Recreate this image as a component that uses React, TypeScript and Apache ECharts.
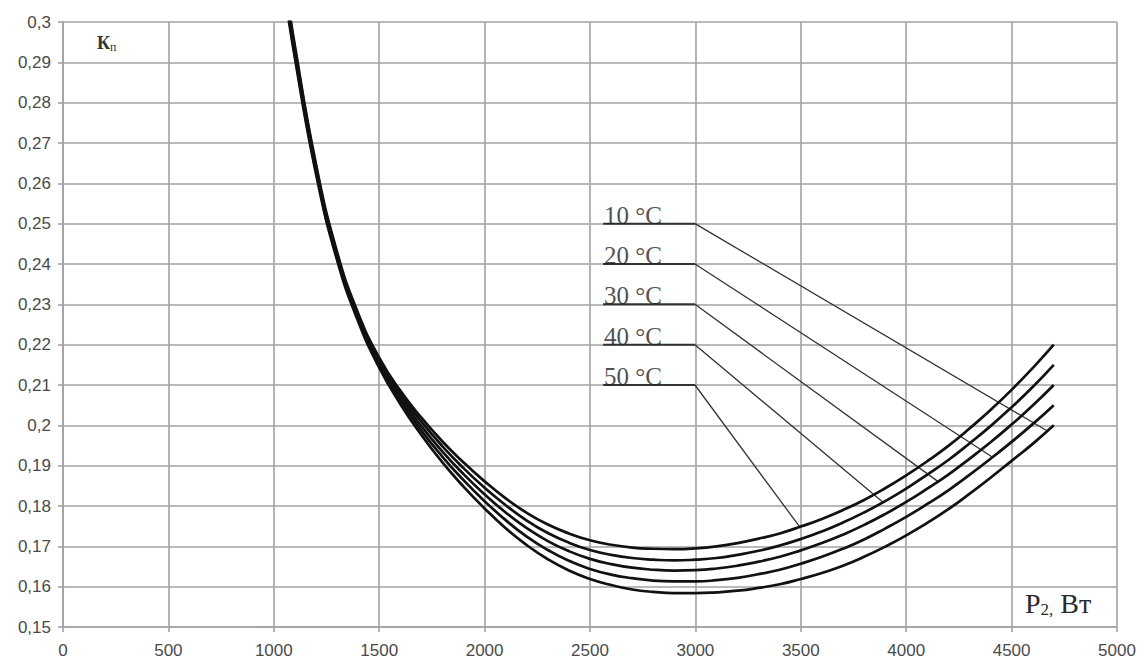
import React, { useEffect, useRef } from "react";
import * as echarts from "echarts";

// Power P2, W (sample positions along each curve)
const P2 = [1050, 1100, 1200, 1300, 1400, 1500, 1600, 1700, 1800, 1900, 2000, 2100, 2200, 2300, 2400, 2500, 2600, 2700, 2800, 2900, 3000, 3100, 3200, 3300, 3400, 3500, 3600, 3700, 3800, 3900, 4000, 4100, 4200, 4300, 4400, 4500, 4600, 4700];

// Loss coefficient Kп per temperature
const K10 = [0.3080, 0.2911, 0.2624, 0.2410, 0.2258, 0.2143, 0.2053, 0.1976, 0.1908, 0.1848, 0.1794, 0.1745, 0.1703, 0.1668, 0.1640, 0.1619, 0.1604, 0.1593, 0.1587, 0.1584, 0.1584, 0.1586, 0.1590, 0.1597, 0.1606, 0.1619, 0.1634, 0.1652, 0.1674, 0.1699, 0.1727, 0.1758, 0.1792, 0.1830, 0.1870, 0.1912, 0.1954, 0.2000];
const K20 = [0.3088, 0.2918, 0.2630, 0.2415, 0.2263, 0.2150, 0.2062, 0.1987, 0.1922, 0.1864, 0.1812, 0.1765, 0.1724, 0.1691, 0.1664, 0.1644, 0.1630, 0.1621, 0.1615, 0.1613, 0.1613, 0.1616, 0.1622, 0.1631, 0.1642, 0.1657, 0.1674, 0.1694, 0.1717, 0.1744, 0.1773, 0.1805, 0.1839, 0.1877, 0.1917, 0.1959, 0.2003, 0.2050];
const K30 = [0.3096, 0.2926, 0.2636, 0.2420, 0.2268, 0.2156, 0.2070, 0.1998, 0.1935, 0.1879, 0.1829, 0.1784, 0.1745, 0.1713, 0.1688, 0.1669, 0.1656, 0.1647, 0.1642, 0.1640, 0.1641, 0.1645, 0.1652, 0.1662, 0.1674, 0.1690, 0.1708, 0.1729, 0.1753, 0.1780, 0.1810, 0.1843, 0.1878, 0.1917, 0.1958, 0.2002, 0.2049, 0.2100];
const K40 = [0.3104, 0.2934, 0.2642, 0.2425, 0.2273, 0.2162, 0.2078, 0.2009, 0.1948, 0.1894, 0.1845, 0.1802, 0.1764, 0.1733, 0.1709, 0.1691, 0.1679, 0.1671, 0.1667, 0.1665, 0.1667, 0.1671, 0.1679, 0.1689, 0.1702, 0.1718, 0.1737, 0.1759, 0.1784, 0.1812, 0.1843, 0.1878, 0.1914, 0.1955, 0.1998, 0.2045, 0.2095, 0.2150];
const K50 = [0.3112, 0.2941, 0.2648, 0.2430, 0.2278, 0.2168, 0.2086, 0.2019, 0.1960, 0.1908, 0.1861, 0.1819, 0.1783, 0.1754, 0.1732, 0.1715, 0.1704, 0.1697, 0.1694, 0.1693, 0.1695, 0.1700, 0.1708, 0.1719, 0.1732, 0.1749, 0.1768, 0.1790, 0.1815, 0.1844, 0.1876, 0.1911, 0.1949, 0.1992, 0.2038, 0.2088, 0.2142, 0.2200];

const CURVES = [K10, K20, K30, K40, K50];
const LABELS = ["10 °C", "20 °C", "30 °C", "40 °C", "50 °C"];
const LABEL_Y = [0.25, 0.24, 0.23, 0.22, 0.21];
const SHELF_X = [2562, 2998];
const LABEL_X = 2567;
const LEADER_END: number[][] = [
  [4670, 0.1986],
  [4410, 0.1921],
  [4150, 0.1861],
  [3890, 0.1809],
  [3495, 0.1748],
];

const X_MIN = 0;
const X_MAX = 5000;
const X_STEP = 500;
const Y_MIN = 0.15;
const Y_MAX = 0.3;
const Y_STEP = 0.01;

const GRID_COLOR = "#a2a2a2";
const LABEL_COLOR = "#4a4a4a";
const SERIF = "'Liberation Serif', 'DejaVu Serif', serif";
const SANS = "'Liberation Sans', Arial, sans-serif";

export default function App() {
  const ref = useRef<HTMLDivElement>(null);

  useEffect(() => {
    if (!ref.current) return;
    const chart = echarts.init(ref.current, null, { renderer: "svg" });

    const curveSeries = CURVES.map((vals, idx) => ({
      type: "line",
      name: LABELS[idx],
      data: P2.map((x, i) => [x, vals[i]]),
      smooth: 0.5,
      symbol: "none",
      clip: true,
      lineStyle: { color: "#111", width: 2.7 },
      z: 5,
    }));

    const shelves: any[] = [];
    const diagonals: any[] = [];
    LABEL_Y.forEach((y, i) => {
      shelves.push([SHELF_X[0], y], [SHELF_X[1], y], [null, null]);
      diagonals.push([SHELF_X[1], y], LEADER_END[i], [null, null]);
    });

    const option: any = {
      animation: false,
      backgroundColor: "#fff",
      grid: { left: 63, right: 25, top: 22, bottom: 35 },
      xAxis: {
        type: "value",
        min: X_MIN,
        max: X_MAX,
        interval: X_STEP,
        axisLine: { show: true, lineStyle: { color: GRID_COLOR, width: 1.6 } },
        axisTick: { show: true, length: 5, lineStyle: { color: GRID_COLOR, width: 1.6 } },
        splitLine: { show: true, lineStyle: { color: GRID_COLOR, width: 1.6 } },
        axisLabel: {
          color: LABEL_COLOR,
          fontFamily: SANS,
          fontSize: 17,
          margin: 15,
          formatter: (v: number) => String(v),
        },
      },
      yAxis: {
        type: "value",
        min: Y_MIN,
        max: Y_MAX,
        interval: Y_STEP,
        axisLine: { show: true, lineStyle: { color: GRID_COLOR, width: 1.6 } },
        axisTick: { show: true, length: 5, lineStyle: { color: GRID_COLOR, width: 1.6 } },
        splitLine: { show: true, lineStyle: { color: GRID_COLOR, width: 1.6 } },
        axisLabel: {
          color: LABEL_COLOR,
          fontFamily: SANS,
          fontSize: 17,
          margin: 12,
          formatter: (v: number) => String(+v.toFixed(2)).replace(".", ","),
        },
      },
      series: [
        ...curveSeries,
        {
          type: "line",
          data: shelves,
          symbol: "none",
          connectNulls: false,
          lineStyle: { color: "#333", width: 2 },
          z: 4,
        },
        {
          type: "line",
          data: diagonals,
          symbol: "none",
          connectNulls: false,
          lineStyle: { color: "#333", width: 1.3 },
          z: 4,
        },
        {
          type: "scatter",
          symbolSize: 0.1,
          data: LABEL_Y.map((y, i) => ({ name: LABELS[i], value: [LABEL_X, y] })),
          label: {
            show: true,
            position: [0, 0],
            align: "left",
            verticalAlign: "bottom",
            offset: [0, 4],
            formatter: (p: any) => p.name,
            color: "#222",
            fontFamily: SERIF,
            fontSize: 25,
          },
          z: 6,
        },
      ],
      graphic: [
        {
          type: "text",
          left: 97,
          top: 34,
          style: {
            text: "{a|К}{b|п}",
            rich: {
              a: { fontFamily: SERIF, fontSize: 18, fontWeight: "bold", fill: "#333" },
              b: { fontFamily: SERIF, fontSize: 12, fill: "#333", padding: [8, 0, 0, 0] },
            },
          },
        },
        {
          type: "text",
          left: 1025,
          top: 589,
          style: {
            text: "{a|P}{b|2,}{a| Вт}",
            rich: {
              a: { fontFamily: SERIF, fontSize: 28, fill: "#2a2a2a" },
              b: { fontFamily: SERIF, fontSize: 17, fill: "#2a2a2a", padding: [12, 0, 0, 0] },
            },
          },
        },
      ],
    };

    chart.setOption(option);
    return () => chart.dispose();
  }, []);

  return (
    <div
      ref={ref}
      style={{ position: "fixed", left: 0, top: 0, width: 1142, height: 662, background: "#fff" }}
    />
  );
}
